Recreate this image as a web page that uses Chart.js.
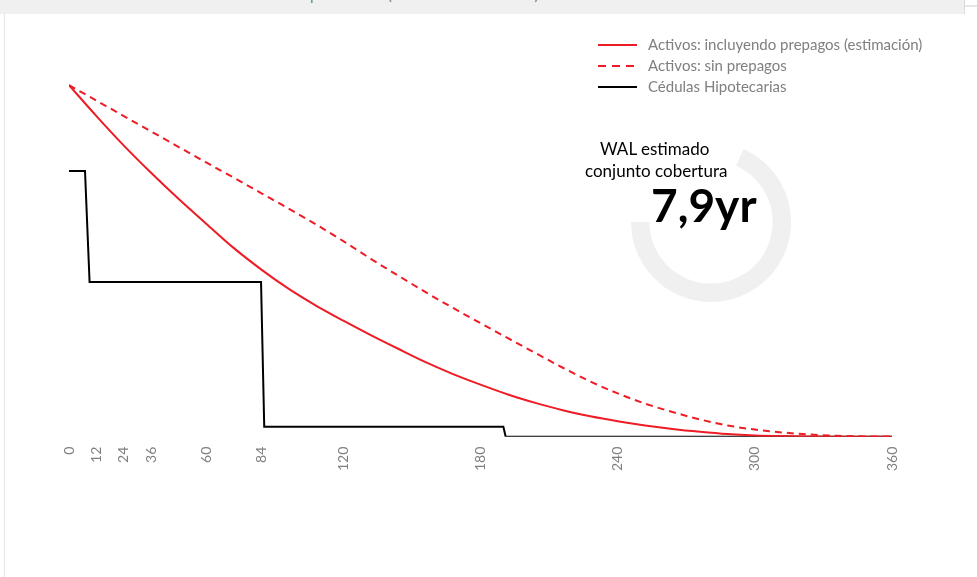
<!DOCTYPE html>
<html>
<head>
<meta charset="utf-8">
<script src="https://cdn.jsdelivr.net/npm/chart.js@4.4.1/dist/chart.umd.min.js"></script>
<style>
    body { margin: 0; background: #fff; font-family: Lato, "Open Sans", sans-serif; }
    #wrap { position: relative; width: 977px; height: 577px; overflow: hidden; }
    #banda { position: absolute; left: 0; top: 0; width: 964px; height: 14px; background: #f0f0f0; overflow: hidden; }
    #banda span { position: absolute; left: 20px; top: -15px; font-size: 15px; color: #7f7f7f; white-space: nowrap; }
    #bordeIzq { position: absolute; left: 4px; top: 14px; width: 1px; height: 563px; background: #e6e6e6; }
    #bordeDer { position: absolute; left: 964px; top: 0; width: 1px; height: 14px; background: #d9d9d9; }
    #pestana { position: absolute; left: 965px; top: 5px; width: 12px; height: 2px; background: #e6e6e6; }
    #anillo { position: absolute; left: 631px; top: 142px; width: 160px; height: 160px; }
    #grafico { position: absolute; left: 0; top: 0; }
    .wal { position: absolute; color: #000; white-space: nowrap; }
</style>
</head>
<body>
<div id="wrap">
    <div id="banda"><span id="titulo">Perfil de amortización de activos frente a pasivos CH (saldo vivo en millones)</span></div>
    <div id="bordeIzq"></div>
    <div id="bordeDer"></div>
    <div id="pestana"></div>
    <div id="anillo"><canvas id="anilloCanvas" width="160" height="160"></canvas></div>
    <canvas id="grafico" width="977" height="577"></canvas>
    <div class="wal" style="left:600px; top:138px; font-size:17px;">WAL estimado</div>
    <div class="wal" style="left:585px; top:160px; font-size:17px;">conjunto cobertura</div>
    <div class="wal" style="left:651px; top:178px; font-size:46px; font-weight:bold; line-height:54px;">7,9yr</div>
</div>
<script>
(function () {
    "use strict";

    // Datos (meses / % saldo)
    var ticksMeses = [0, 12, 24, 36, 60, 84, 120, 180, 240, 300, 360];

    var mesesActivos = [0, 12, 24, 36, 48, 60, 72, 84, 96, 108, 120, 132, 144, 156, 168, 180, 192, 204, 216, 228, 240, 252, 264, 276, 288, 300, 312, 324, 336, 348, 360];
    var activosConPrepago = [100, 91.2, 82.8, 75.0, 67.6, 60.6, 53.7, 47.6, 42.1, 37.3, 33.0, 28.9, 25.0, 21.2, 17.8, 14.8, 12.0, 9.6, 7.5, 5.8, 4.4, 3.2, 2.2, 1.4, 0.75, 0.35, 0.15, 0.05, 0, 0, 0];
    var activosSinPrepago = [100, 95.6, 91.2, 86.8, 82.4, 78.0, 73.7, 69.3, 64.9, 60.4, 55.6, 50.6, 45.8, 41.1, 36.6, 32.3, 28.0, 23.8, 19.6, 15.7, 12.3, 9.4, 7.0, 4.9, 3.2, 2.0, 1.2, 0.6, 0.25, 0.07, 0];

    var mesesCedulas = [0, 7, 9, 84, 85.4, 190, 191, 360];
    var cedulas = [75.6, 75.6, 44.0, 44.0, 2.8, 2.8, 0, 0];

    var nombres = ["Activos: incluyendo prepagos (estimación)", "Activos: sin prepagos", "Cédulas Hipotecarias"];

    var rojo = "#ee1c25";

    function puntos(xs, ys) {
        return xs.map(function (x, i) { return {x: x, y: ys[i]}; });
    }

    // Titulo cortado: colocar la "p" de pasivos en x=310
    var titulo = document.getElementById("titulo");
    var medida = document.createElement("canvas").getContext("2d");
    medida.font = "15px Lato";
    var prefijo = titulo.textContent.split("pasivos")[0];
    titulo.style.left = (310 - medida.measureText(prefijo).width) + "px";

    // Leyenda dibujada arriba a la derecha, en columna
    var leyenda = {
        id: "leyenda",
        afterDraw: function (chart) {
            var ctx = chart.ctx;
            ctx.save();
            chart.data.datasets.forEach(function (ds, i) {
                var y = 45 + i * 21;
                ctx.beginPath();
                ctx.strokeStyle = ds.borderColor;
                ctx.lineWidth = 2;
                ctx.setLineDash(ds.borderDash ? [8, 6] : []);
                ctx.moveTo(598, y);
                ctx.lineTo(637, y);
                ctx.stroke();
                ctx.setLineDash([]);
                ctx.fillStyle = "#7f7f7f";
                ctx.font = "15px Lato";
                ctx.textBaseline = "middle";
                ctx.fillText(ds.label, 648, y);
            });
            ctx.restore();
        }
    };

    new Chart(document.getElementById("anilloCanvas"), {
        type: "doughnut",
        data: {
            datasets: [{
                data: [246, 114],
                backgroundColor: ["#f0f0f0", "rgba(0,0,0,0)"],
                borderWidth: 0
            }]
        },
        options: {
            responsive: false,
            animation: false,
            rotation: 24,
            cutout: "77%",
            events: [],
            plugins: { legend: { display: false }, tooltip: { enabled: false } }
        }
    });

    new Chart(document.getElementById("grafico"), {
        type: "line",
        data: {
            datasets: [{
                label: nombres[0],
                data: puntos(mesesActivos, activosConPrepago),
                borderColor: rojo,
                borderWidth: 2,
                cubicInterpolationMode: "monotone",
                pointRadius: 0
            }, {
                label: nombres[1],
                data: puntos(mesesActivos, activosSinPrepago),
                borderColor: rojo,
                borderWidth: 2,
                borderDash: [7, 5],
                cubicInterpolationMode: "monotone",
                pointRadius: 0
            }, {
                label: nombres[2],
                data: puntos(mesesCedulas, cedulas),
                borderColor: "#000000",
                borderWidth: 2,
                tension: 0,
                pointRadius: 0
            }]
        },
        options: {
            responsive: false,
            animation: false,
            events: [],
            layout: { padding: { top: 50, left: 69, right: 85, bottom: 96 } },
            scales: {
                x: {
                    type: "linear",
                    min: 0,
                    max: 360,
                    afterBuildTicks: function (scale) {
                        scale.ticks = ticksMeses.map(function (v) { return {value: v}; });
                    },
                    grid: { display: false, drawTicks: false },
                    border: { display: false },
                    ticks: {
                        autoSkip: false,
                        minRotation: 90,
                        maxRotation: 90,
                        padding: 10,
                        color: "#7f7f7f",
                        font: { family: "Lato", size: 14 }
                    }
                },
                y: {
                    display: false,
                    min: 0,
                    max: 110
                }
            },
            plugins: { legend: { display: false }, tooltip: { enabled: false } }
        },
        plugins: [leyenda]
    });
})();
</script>
</body>
</html>
